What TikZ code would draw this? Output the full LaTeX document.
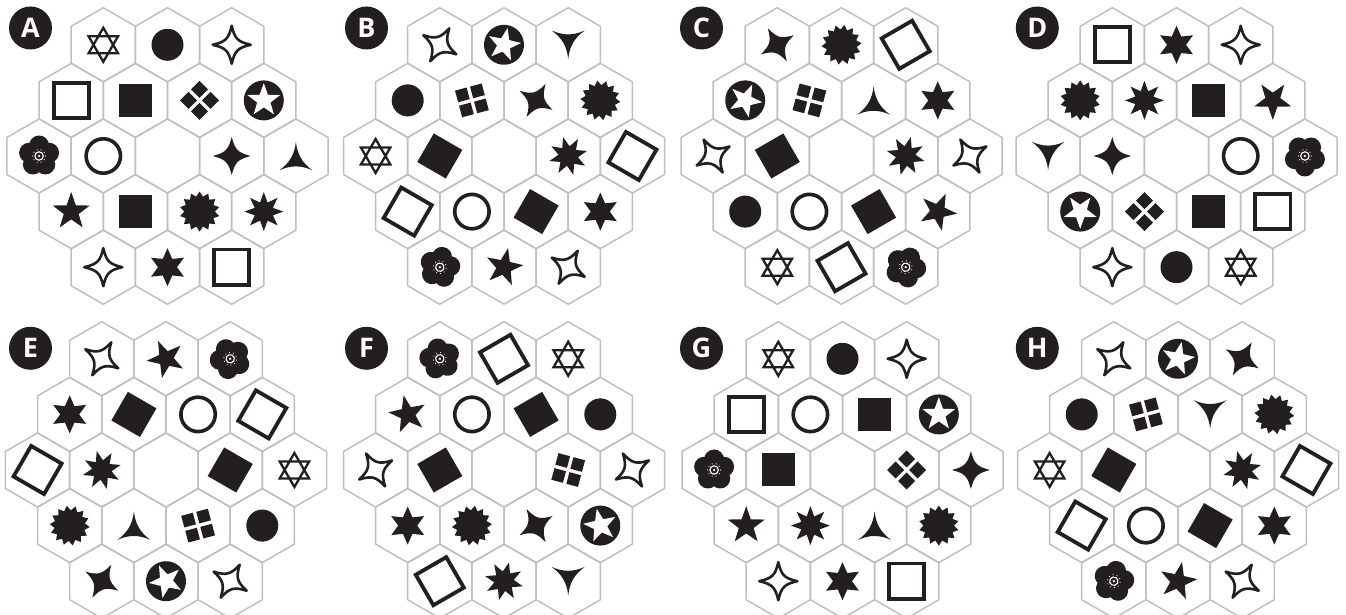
\documentclass[tikz,border=0pt]{standalone}
\usepackage{fontspec}
\newfontfamily\tagfont{Open Sans}
\definecolor{ink}{HTML}{231F20}
\definecolor{hexgray}{HTML}{BEBFC1}

\def\hw{64.2}  % hex width
\def\hv{55.6}  % row step
\def\hr{37.07} % hex radius

% symbols, each drawn round (0,0)
\tikzset{
  blank/.pic  = {},
  dot/.pic    = {\fill[ink] (0,0) circle (16);},
  ring/.pic   = {\draw[ink, line width=3.6pt] (0,0) circle (17.2);},
  fsq/.pic    = {\fill[ink] (-16.5,-16.5) rectangle (16.5,16.5);},
  osq/.pic    = {\draw[ink, line width=3.8pt] (-17.6,-17.6) rectangle (17.6,17.6);},
  sd/.pic     = {\draw[ink, line width=2.3pt, line join=miter]
                   (90:17) -- (210:17) -- (330:17) -- cycle
                   (270:17) -- (30:17) -- (150:17) -- cycle;},
  spo/.pic    = {\draw[ink, line width=2.6pt, line join=round]
                   (19,0) .. controls (6,3) and (3,6) .. (0,19)
                   .. controls (-3,6) and (-6,3) .. (-19,0)
                   .. controls (-6,-3) and (-3,-6) .. (0,-19)
                   .. controls (3,-6) and (6,-3) .. cycle;},
  fstar4/.pic = {\fill[ink]
                   (19,0) .. controls (6,3.5) and (3.5,6) .. (0,19)
                   .. controls (-3.5,6) and (-6,3.5) .. (-19,0)
                   .. controls (-6,-3.5) and (-3.5,-6) .. (0,-19)
                   .. controls (3.5,-6) and (6,-3.5) .. cycle;},
  tri/.pic    = {\fill[ink, shift={(90-\panang:{-4.75*cos(3*\panang)})}]
                   (90:19) .. controls (102:6.5) and (198:6.5) .. (210:19)
                   .. controls (222:6.5) and (318:6.5) .. (330:19)
                   .. controls (342:6.5) and (78:6.5) .. cycle;},
  fourd/.pic  = {\foreach \a in {0,90,180,270}
                   {\fill[ink, shift={(\a:11)}] (8.5,0) -- (0,8.5) -- (-8.5,0) -- (0,-8.5) -- cycle;}},
  star5/.pic  = {\fill[ink] (90:19.5) \foreach \k in {1,...,9}
                   {-- ({90+\k*36}:{ifthenelse(mod(\k,2)==0,19.5,7.8)})} -- cycle;},
  star6/.pic  = {\fill[ink] (90:19) \foreach \k in {1,...,11}
                   {-- ({90+\k*30}:{ifthenelse(mod(\k,2)==0,19,9.5)})} -- cycle;},
  star8/.pic  = {\fill[ink] (90:19.5) \foreach \k in {1,...,15}
                   {-- ({90+\k*22.5}:{ifthenelse(mod(\k,2)==0,19.5,9.8)})} -- cycle;},
  burst/.pic  = {\fill[ink] (90:20) \foreach \k in {1,...,27}
                   {-- ({90+\k*180/14}:{ifthenelse(mod(\k,2)==0,20,15.3)})} -- cycle;},
  starcirc/.pic = {\fill[ink] (0,0) circle (20);
                   \fill[white] (90:17.2) \foreach \k in {1,...,9}
                   {-- ({90+\k*36}:{ifthenelse(mod(\k,2)==0,17.2,7)})} -- cycle;},
  flower/.pic = {\fill[ink] \foreach \a in {90,162,234,306,18} {(\a:10.5) circle (10)}
                   (0,0) circle (11.5);
                 \draw[white, line width=1.1pt] (0,0) circle (4.2);
                 \fill[white] (0,0) circle (1.3);
                 \foreach \a in {0,36,...,324} {\fill[white] (\a:6.4) circle (0.6);}},
}

% one panel: centre x, centre y, tag x, tag y, letter, turn, rows
\newcommand{\hexpanel}[7]{%
  \def\panang{#6}
  \foreach \row/\cells in {#7} {
    \pgfmathtruncatemacro\ncell{5-abs(\row-2)}
    \foreach \sym [count=\col] in \cells {
      \pgfmathsetmacro\hx{#1+(\col-(\ncell+1)/2)*\hw}
      \pgfmathsetmacro\hy{#2-(\row-2)*\hv}
      \draw[hexline] (\hx,\hy) +(30:\hr) -- +(90:\hr) -- +(150:\hr)
        -- +(210:\hr) -- +(270:\hr) -- +(330:\hr) -- cycle;
      \pic[rotate=\panang] at (\hx,\hy) {\sym};
    }
  }
  \node[tag] (tag#5) at (#3,#4) {#5};
}

\begin{document}
\begin{tikzpicture}[
    x=1pt, y=1pt,
    hexline/.style = {draw=hexgray, line width=1.5pt, line join=round},
    tag/.style     = {circle, fill=ink, text=white, inner sep=0pt,
                      minimum size=43pt,
                      font=\tagfont\bfseries\fontsize{27}{27}\selectfont}
  ]
  \useasboundingbox (0,0) rectangle (1346,615);
  \clip (0,0) rectangle (1346,615);

  % Top row
  \hexpanel{167.5}{459}{30.5}{587}{A}{0}{0/{sd,dot,spo}, 1/{osq,fsq,fourd,starcirc},
    2/{flower,ring,blank,fstar4,tri}, 3/{star5,fsq,burst,star8}, 4/{spo,star6,osq}}
  \hexpanel{504}{459}{366.5}{587}{B}{60}{0/{spo,starcirc,tri}, 1/{dot,fourd,fstar4,burst},
    2/{sd,fsq,blank,star8,osq}, 3/{osq,ring,fsq,star6}, 4/{flower,star5,spo}}
  \hexpanel{841.5}{459}{701.5}{587}{C}{120}{0/{fstar4,burst,osq}, 1/{starcirc,fourd,tri,star6},
    2/{spo,fsq,blank,star8,spo}, 3/{dot,ring,fsq,star5}, 4/{sd,osq,flower}}
  \hexpanel{1176.5}{459}{1037.3}{587}{D}{180}{0/{osq,star6,spo}, 1/{burst,star8,fsq,star5},
    2/{tri,fstar4,blank,ring,flower}, 3/{starcirc,fourd,fsq,osq}, 4/{spo,dot,sd}}

  % Bottom row
  \hexpanel{166}{145}{30.5}{266.7}{E}{240}{0/{spo,star5,flower}, 1/{star6,fsq,ring,osq},
    2/{osq,star8,blank,fsq,sd}, 3/{burst,tri,fourd,dot}, 4/{fstar4,starcirc,spo}}
  \hexpanel{504}{145}{366.5}{266.7}{F}{300}{0/{flower,osq,sd}, 1/{star5,ring,fsq,dot},
    2/{spo,fsq,blank,fourd,spo}, 3/{star6,burst,fstar4,starcirc}, 4/{osq,star8,tri}}
  \hexpanel{842.5}{145}{701.5}{266.7}{G}{0}{0/{sd,dot,spo}, 1/{osq,ring,fsq,starcirc},
    2/{flower,fsq,blank,fourd,fstar4}, 3/{star5,star8,tri,burst}, 4/{spo,star6,osq}}
  \hexpanel{1178}{145}{1037.3}{266.7}{H}{60}{0/{spo,starcirc,fstar4}, 1/{dot,fourd,tri,burst},
    2/{sd,fsq,blank,star8,osq}, 3/{osq,ring,fsq,star6}, 4/{flower,star5,spo}}
\end{tikzpicture}
\end{document}
